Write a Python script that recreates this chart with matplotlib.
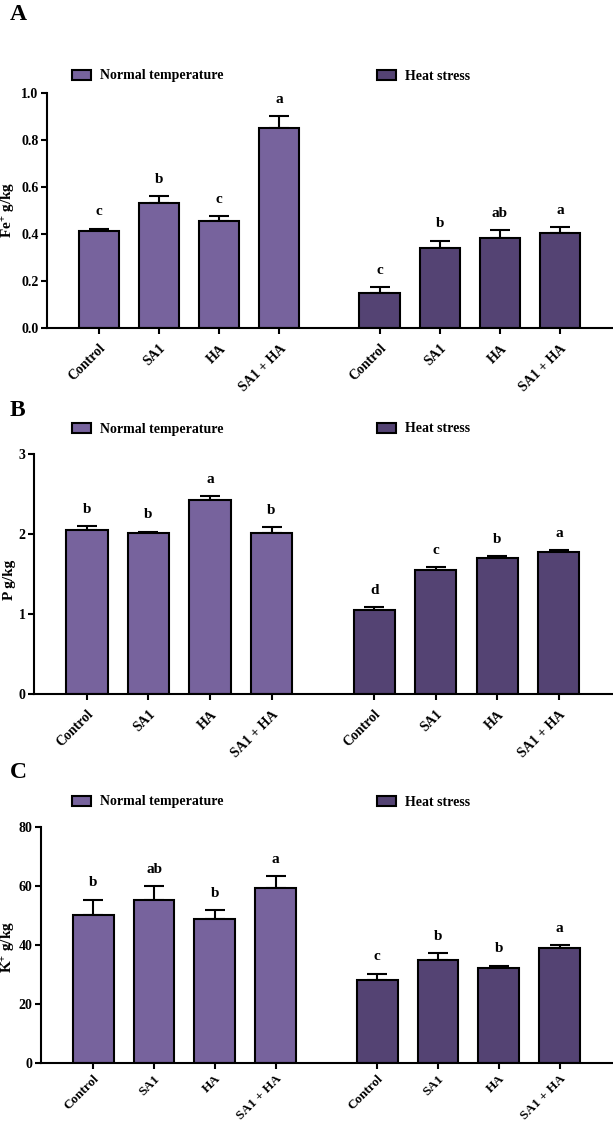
import matplotlib
matplotlib.use('Agg')
from matplotlib import pyplot as plt
from matplotlib.patches import Patch
import numpy as np

plt.rcParams['font.family'] = 'Liberation Serif'
plt.rcParams['font.weight'] = 'bold'
plt.rcParams['mathtext.fontset'] = 'custom'
plt.rcParams['mathtext.rm'] = 'Liberation Serif:bold'
plt.rcParams['mathtext.bf'] = 'Liberation Serif:bold'
plt.rcParams['mathtext.default'] = 'bf'

groups = ['Control', 'SA1', 'HA', 'SA1 + HA']
legend_labels = ['Normal temperature', 'Heat stress']

fe_normal = [0.413, 0.532, 0.455, 0.851]
fe_normal_err = [0.010, 0.030, 0.023, 0.051]
fe_heat = [0.148, 0.342, 0.384, 0.406]
fe_heat_err = [0.025, 0.030, 0.032, 0.024]
fe_letters_normal = ['c', 'b', 'c', 'a']
fe_letters_heat = ['c', 'b', 'ab', 'a']
fe_ticks = [0.0, 0.2, 0.4, 0.6, 0.8, 1.0]

p_normal = [2.05, 2.01, 2.43, 2.01]
p_normal_err = [0.05, 0.02, 0.04, 0.08]
p_heat = [1.05, 1.55, 1.70, 1.775]
p_heat_err = [0.04, 0.04, 0.02, 0.02]
p_letters_normal = ['b', 'b', 'a', 'b']
p_letters_heat = ['d', 'c', 'b', 'a']
p_ticks = [0, 1, 2, 3]

k_normal = [50.3, 55.1, 48.8, 59.4]
k_normal_err = [5.1, 4.9, 3.0, 4.1]
k_heat = [28.2, 34.9, 32.3, 38.9]
k_heat_err = [2.1, 2.5, 0.7, 1.2]
k_letters_normal = ['b', 'ab', 'b', 'a']
k_letters_heat = ['c', 'b', 'b', 'a']
k_ticks = [0, 20, 40, 60, 80]

c_normal = '#77639d'
c_heat = '#544373'

W, H = 613, 1124
fig = plt.figure(figsize=(W / 100, H / 100), dpi=100)


def panel(left, y0, ytop, normal, nerr, heat, herr, ln, lh, ticks, fmt,
          ylabel, tag, tag_y, leg_y, ylab_y, xpad=6, xsize=10):
    ax = fig.add_axes([left / W, 1 - y0 / H, (W - left) / W, (y0 - ytop) / H])
    xn = np.arange(4)
    xh = np.arange(4) + 4.67
    for xs, vals, errs, col, lets in [(xn, normal, nerr, c_normal, ln),
                                      (xh, heat, herr, c_heat, lh)]:
        ax.bar(xs, vals, width=0.67, color=col, edgecolor='black', linewidth=1.5, zorder=2)
        ax.errorbar(xs, vals, yerr=[np.zeros(4), errs], fmt='none', ecolor='black',
                    elinewidth=1.5, capsize=7, capthick=1.5, zorder=1)
        for x, v, e, t in zip(xs, vals, errs, lets):
            ax.annotate(t, (x, v + e), xytext=(0, 12), textcoords='offset points',
                        ha='center', va='center', fontsize=11, fontweight='bold')
    ax.set_xlim(-0.86, 8.55)
    ax.set_ylim(ticks[0], ticks[-1])
    ax.set_yticks(ticks)
    ax.set_yticklabels([fmt.format(t) for t in ticks], fontsize=10)
    ax.set_xticks(list(xn) + list(xh))
    ax.set_xticklabels(groups + groups, rotation=45, ha='right',
                       rotation_mode='anchor', fontsize=xsize)
    for s in ['top', 'right']:
        ax.spines[s].set_visible(False)
    for s in ['left', 'bottom']:
        ax.spines[s].set_linewidth(1.5)
    ax.tick_params(width=1.5, length=4, pad=2)
    ax.tick_params(axis='x', pad=xpad)
    fig.text(9 / W, 1 - ylab_y / H, ylabel, rotation=90, ha='center', va='center',
             fontsize=11, fontweight='bold')
    fig.text(10 / W, 1 - tag_y / H, tag, fontsize=17, fontweight='bold', va='center')
    for xp, lab, col in [(72, legend_labels[0], c_normal), (377, legend_labels[1], c_heat)]:
        fig.legend(handles=[Patch(facecolor=col, edgecolor='black', linewidth=1.5, label=lab)],
                   loc='center left', bbox_to_anchor=(xp / W, 1 - leg_y / H),
                   frameon=False, borderpad=0, borderaxespad=0, handlelength=1.4,
                   handleheight=0.7, handletextpad=0.6, prop={'size': 10, 'weight': 'bold'})
    return ax


panel(47, 328, 93, fe_normal, fe_normal_err, fe_heat, fe_heat_err,
      fe_letters_normal, fe_letters_heat, fe_ticks, '{:.1f}',
      'Fe$^{+}$ g/kg', 'A', 14, 76, 210)
panel(34, 694, 454, p_normal, p_normal_err, p_heat, p_heat_err,
      p_letters_normal, p_letters_heat, p_ticks, '{:d}',
      'P g/kg', 'B', 411, 429, 580)
panel(41, 1063, 827, k_normal, k_normal_err, k_heat, k_heat_err,
      k_letters_normal, k_letters_heat, k_ticks, '{:d}',
      'K$^{+}$ g/kg', 'C', 773, 802, 947, xpad=3, xsize=9.5)

plt.savefig('out.png', dpi=100)
